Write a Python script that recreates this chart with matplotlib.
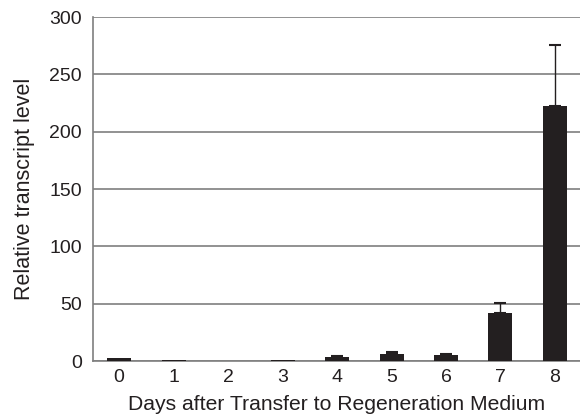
import numpy as np
import matplotlib
matplotlib.use("Agg")
import matplotlib.pyplot as plt

plt.rcParams['font.family'] = ['Liberation Sans', 'DejaVu Sans']

# mean transcript level per day, with upper error
days = ['0', '1', '2', '3', '4', '5', '6', '7', '8']
level = [2.5, 0.8, 0.0, 0.5, 3.5, 6.0, 5.0, 42.0, 222.0]
err = [0.0, 0.0, 0.0, 0.0, 1.1, 1.5, 1.0, 8.5, 53.5]

fig = plt.figure(figsize=(5.8, 4.18), dpi=100)
ax = fig.add_axes([93 / 580, 57 / 418, 487 / 580, 344 / 418])

x = np.arange(len(days))
ax.bar(x, level, width=0.44, color='#231f20', zorder=3)

# error bars only where there is an error
has_err = np.array(err) > 0
xe = x[has_err]
ye = np.array(level)[has_err]
ee = np.array(err)[has_err]
ax.errorbar(xe, ye, yerr=[np.zeros(len(ee)), ee], fmt='none',
            ecolor='#231f20', elinewidth=1, capsize=4.3, capthick=1.5, zorder=4)

ax.set_ylim(0, 300)
ax.set_xlim(-0.48, 8.46)
ax.set_yticks(range(0, 301, 50))
ax.set_xticks(x)
ax.set_xticklabels(days)
ax.yaxis.grid(True, color='#7f7f7f', linewidth=1.2, zorder=0)
ax.set_axisbelow(True)

for s in ['top', 'right']:
    ax.spines[s].set_visible(False)
for s in ['left', 'bottom']:
    ax.spines[s].set_color('#7f7f7f')
    ax.spines[s].set_linewidth(1.2)

ax.tick_params(axis='both', length=0, labelsize=14, colors='#231f20', pad=6)
ax.tick_params(axis='y', pad=8)

ax.set_ylabel('Relative transcript level', fontsize=15.5, color='#231f20', labelpad=10)
ax.set_xlabel('Days after Transfer to Regeneration Medium', fontsize=15.2,
              color='#231f20', labelpad=6)

fig.savefig('out.png', dpi=100)
